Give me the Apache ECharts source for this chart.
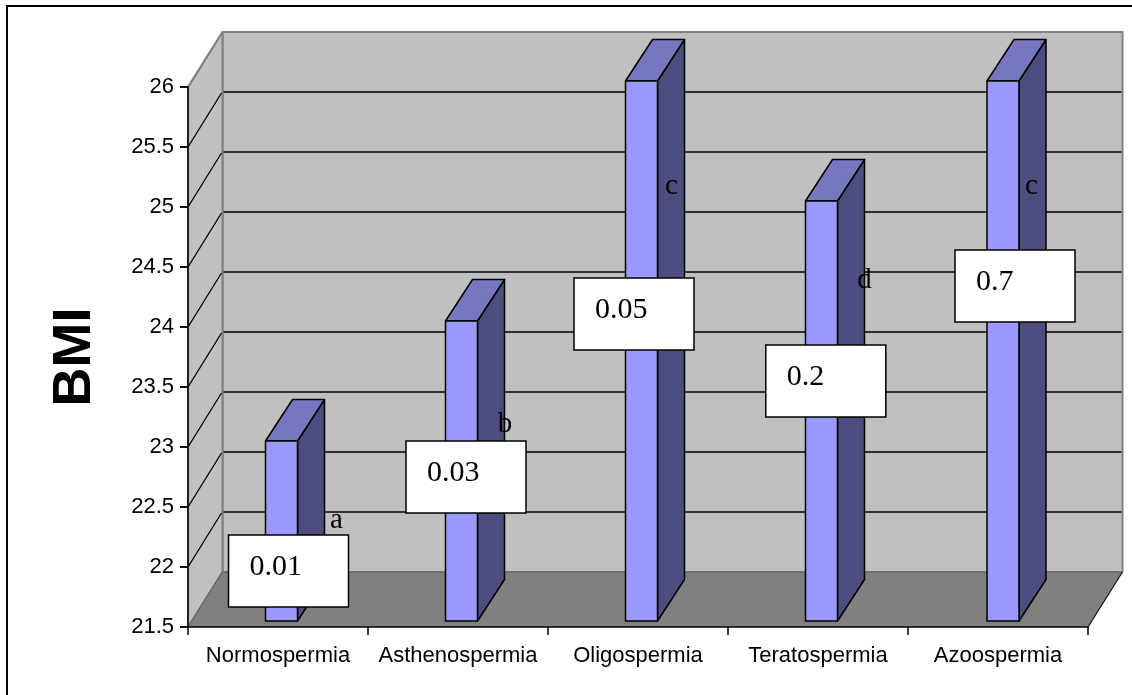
<!DOCTYPE html>
<html>
<head>
<meta charset="utf-8">
<style>html,body{margin:0;padding:0;background:#fff;overflow:hidden}#chart{width:1132px;height:695px}</style>
<script src="https://cdn.jsdelivr.net/npm/echarts@6/dist/echarts.min.js"></script>
</head>
<body>
<div id="chart"></div>
<script>
// ---- data ----
const categories = ['Normospermia', 'Asthenospermia', 'Oligospermia', 'Teratospermia', 'Azoospermia'];
const bmiValues = [23, 24, 26, 25, 26];
const pValues = ['0.01', '0.03', '0.05', '0.2', '0.7'];
const groupLetters = ['a', 'b', 'c', 'd', 'c'];
const yTicks = [21.5, 22, 22.5, 23, 23.5, 24, 24.5, 25, 25.5, 26];

// ---- layout (pixels relative to the top centre of each bar) ----
const boxOffsets = [[-53, 94], [-55.5, 120], [-67.5, 197], [-55.7, 144], [-48, 169]];
const letterOffsets = [[55, 79], [43.5, 103], [30, 105], [43, 79], [28.5, 105]];
const barNudgeX = [0, 0, 0, 0, 1.5];
const BOX_W = 120, BOX_H = 72;
const WALL_DX = 34.5, WALL_DY = -55;
const BAR_W = 32, BAR_DX = 27, BAR_DY = -41.5, BAR_SHIFT_X = 3.5, BAR_SHIFT_Y = -6;
const TICK_LEN = 8;
const Y_MIN = 21.5, Y_MAX = 26;
const WALL = '#C0C0C0', FLOOR = '#808080', EDGE = '#808080';

function plotEnds(api) {
  const left = api.coord([0, Y_MIN])[0] - api.size([1, 0])[0] / 2;
  const right = api.coord([categories.length - 1, Y_MIN])[0] + api.size([1, 0])[0] / 2;
  return { left, right };
}

function renderWalls(params, api) {
  const { left, right } = plotEnds(api);
  const yb = api.coord([0, Y_MIN])[1], yt = api.coord([0, Y_MAX])[1];
  const s = { fill: WALL, stroke: EDGE, lineWidth: 2, lineJoin: 'round' };
  return { type: 'group', silent: true, children: [
    { type: 'polygon', shape: { points: [[left + WALL_DX, yt + WALL_DY], [right + WALL_DX, yt + WALL_DY], [right + WALL_DX, yb + WALL_DY], [left + WALL_DX, yb + WALL_DY]] }, style: s },
    { type: 'polygon', shape: { points: [[left, yb], [left, yt], [left + WALL_DX, yt + WALL_DY], [left + WALL_DX, yb + WALL_DY]] }, style: s },
    { type: 'polygon', shape: { points: [[left, yb], [left + WALL_DX, yb + WALL_DY], [right + WALL_DX, yb + WALL_DY], [right, yb]] }, style: { fill: FLOOR, stroke: null } },
    { type: 'line', shape: { x1: left + WALL_DX, y1: yb + WALL_DY, x2: right + WALL_DX, y2: yb + WALL_DY }, style: { stroke: '#6c6c6c', lineWidth: 1.5 } },
    { type: 'line', shape: { x1: left, y1: yb, x2: left + WALL_DX, y2: yb + WALL_DY }, style: { stroke: '#666', lineWidth: 1.2 } },
    { type: 'line', shape: { x1: right, y1: yb, x2: right + WALL_DX, y2: yb + WALL_DY }, style: { stroke: '#111', lineWidth: 1.2 } }
  ] };
}

function renderGridLine(params, api) {
  const { left, right } = plotEnds(api);
  const value = api.value(0);
  const y = api.coord([0, value])[1];
  const children = [
    { type: 'line', shape: { x1: left - TICK_LEN, y1: y, x2: left, y2: y }, style: { stroke: '#000', lineWidth: 1.5 } }
  ];
  if (value > Y_MIN && value < Y_MAX) {
    children.push({ type: 'line', shape: { x1: left, y1: y, x2: left + WALL_DX - 1, y2: y + WALL_DY + 1 }, style: { stroke: '#000', lineWidth: 1.3 } });
    children.push({ type: 'line', shape: { x1: left + WALL_DX + 1, y1: y + WALL_DY, x2: right + WALL_DX - 1, y2: y + WALL_DY }, style: { stroke: '#000', lineWidth: 1.3 } });
  } else if (value === Y_MAX) {
    children.push({ type: 'line', shape: { x1: left, y1: y, x2: left + WALL_DX, y2: y + WALL_DY }, style: { stroke: EDGE, lineWidth: 1.5 } });
  }
  return { type: 'group', silent: true, children };
}

function barTop(api, i) {
  const p = api.coord([api.value(0), api.value(1)]);
  return [p[0] + BAR_SHIFT_X + barNudgeX[i], p[1] + BAR_SHIFT_Y];
}

function renderBar(params, api) {
  const [cx, ty] = barTop(api, params.dataIndex);
  const by = api.coord([0, Y_MIN])[1] + BAR_SHIFT_Y;
  const l = cx - BAR_W / 2, r = cx + BAR_W / 2;
  const stroke = { stroke: '#000', lineWidth: 1.5, lineJoin: 'round' };
  return { type: 'group', children: [
    { type: 'polygon', shape: { points: [[r, ty], [r + BAR_DX, ty + BAR_DY], [r + BAR_DX, by + BAR_DY], [r, by]] }, style: { fill: '#4D4D80', ...stroke } },
    { type: 'polygon', shape: { points: [[l, ty], [l + BAR_DX, ty + BAR_DY], [r + BAR_DX, ty + BAR_DY], [r, ty]] }, style: { fill: '#7777BF', ...stroke } },
    { type: 'rect', shape: { x: l, y: ty, width: BAR_W, height: by - ty }, style: { fill: '#9999FF', ...stroke } }
  ] };
}

function renderLetter(params, api) {
  const [cx, ty] = barTop(api, params.dataIndex);
  const o = letterOffsets[params.dataIndex];
  return { type: 'text', silent: true, style: {
    x: cx + o[0], y: ty + o[1], text: groupLetters[params.dataIndex], align: 'center', verticalAlign: 'middle',
    fill: '#000', font: '29px "Liberation Serif"'
  } };
}

function renderBox(params, api) {
  const [cx, ty] = barTop(api, params.dataIndex);
  const o = boxOffsets[params.dataIndex];
  const x = cx + o[0], y = ty + o[1];
  return { type: 'group', silent: true, children: [
    { type: 'rect', shape: { x, y, width: BOX_W, height: BOX_H }, style: { fill: '#fff', stroke: '#000', lineWidth: 1.5 } },
    { type: 'text', style: { x: x + 21, y: y + 32, text: pValues[params.dataIndex], align: 'left', verticalAlign: 'middle', fill: '#000', font: '30px "Liberation Serif"' } }
  ] };
}

const barData = categories.map((c, i) => [i, bmiValues[i]]);
const chart = echarts.init(document.getElementById('chart'), null, { renderer: 'canvas' });
chart.setOption({
  animation: false,
  backgroundColor: '#fff',
  graphic: [
    { type: 'polyline', z: 100, silent: true, shape: { points: [[7, 695], [7, 6], [1132, 6]] }, style: { stroke: '#000', lineWidth: 2, fill: null } }
  ],
  grid: { left: 188, right: 44, top: 87, bottom: 68 },
  xAxis: {
    type: 'category', data: categories, z: 5,
    axisLine: { lineStyle: { color: '#000', width: 1.5 } },
    axisTick: { show: true, alignWithLabel: false, length: 8, lineStyle: { color: '#000', width: 1.5 } },
    axisLabel: { color: '#000', fontFamily: 'Liberation Sans', fontSize: 22, margin: 18, interval: 0, hideOverlap: false }
  },
  yAxis: {
    type: 'value', min: Y_MIN, max: Y_MAX, interval: 0.5, z: 5,
    name: 'BMI', nameLocation: 'middle', nameGap: 86,
    nameTextStyle: { color: '#000', fontFamily: 'Liberation Sans', fontWeight: 'bold', fontSize: 54 },
    splitLine: { show: false },
    axisLine: { show: true, lineStyle: { color: '#000', width: 1.5 } },
    axisTick: { show: true, length: TICK_LEN, lineStyle: { color: '#000', width: 1.5 } },
    axisLabel: { color: '#000', fontFamily: 'Liberation Sans', fontSize: 22, margin: 14 }
  },
  series: [
    { type: 'custom', name: 'walls', z: 1, renderItem: renderWalls, data: [[0, Y_MIN]], encode: { x: 0, y: 1 }, silent: true, clip: false },
    { type: 'custom', name: 'gridlines', z: 2, renderItem: renderGridLine, data: yTicks.map(v => [v]), encode: { y: 0 }, silent: true, clip: false },
    { type: 'custom', name: 'BMI', z: 3, renderItem: renderBar, data: barData, encode: { x: 0, y: 1 }, clip: false },
    { type: 'custom', name: 'letters', z: 4, renderItem: renderLetter, data: barData, encode: { x: 0, y: 1 }, silent: true, clip: false },
    { type: 'custom', name: 'p-values', z: 6, renderItem: renderBox, data: barData, encode: { x: 0, y: 1 }, silent: true, clip: false }
  ]
});
</script>
</body>
</html>
